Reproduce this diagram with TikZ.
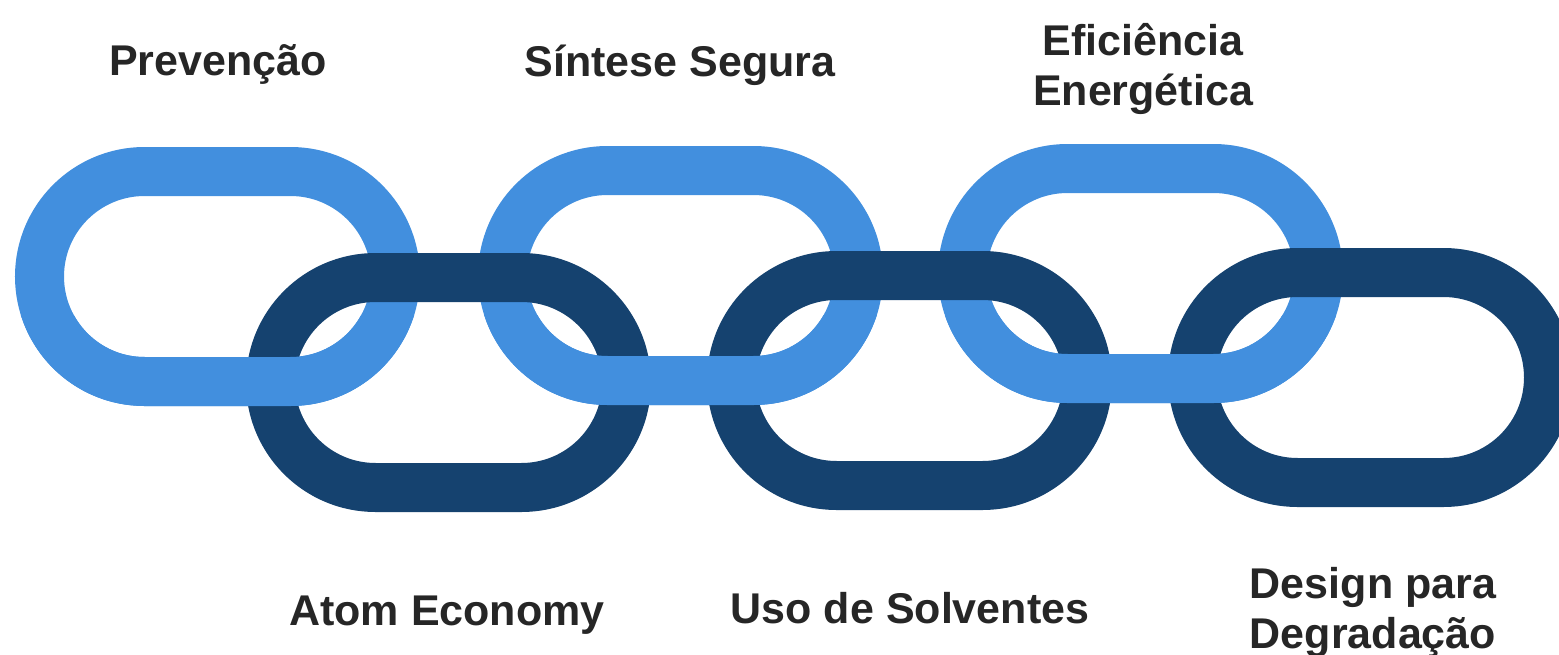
\documentclass[tikz,border=0pt]{standalone}
\usepackage{fontspec}
\setmainfont{Liberation Sans}
\usepackage{tikz}
\definecolor{linklight}{HTML}{428FDE}
\definecolor{linkdark}{HTML}{15426F}
\definecolor{labeltext}{HTML}{262626}
\tikzset{
	lightlink/.style={draw=linklight,line width=49pt,rounded corners=105pt},
	darklink/.style={draw=linkdark,line width=49pt,rounded corners=105pt},
	tag/.style={text=labeltext,font=\fontsize{43}{50}\selectfont\bfseries,align=center,inner sep=0pt}
}

\begin{document}
\begin{tikzpicture}[x=1pt,y=-1pt]
	\useasboundingbox (0,0) rectangle (1559,654);
	% corners of the links (centre line)
	\coordinate (L1) at (39.5,171.5);
	\coordinate (D1) at (270.5,277.5);
	\coordinate (L2) at (502.5,170.5);
	\coordinate (D2) at (731.5,275.5);
	\coordinate (L3) at (962.5,168.5);
	\coordinate (D3) at (1192.5,272.5);
	\foreach \c in {L1,L2,L3}
		\path [lightlink] (\c) rectangle ++(356,210);
	\foreach \c in {D1,D2,D3}
		\path [darklink] (\c) rectangle ++(356,210);
	% lower halves of the light links go over the dark ones
	\begin{scope}
		\clip (0,315) rectangle (1559,654);
		\foreach \c in {L1,L2,L3}
			\path [lightlink] (\c) rectangle ++(356,210);
	\end{scope}
	% base anchor sits on the last line
	\path (218,75) node [tag,anchor=base] (prev) {Prevenção};
	\path (680,76) node [tag,anchor=base] (sint) {Síntese Segura};
	\path (1143,105) node [tag,anchor=base] (efic) {Eficiência\\Energética};
	\path (447,625) node [tag,anchor=base] (atom) {Atom Economy};
	\path (910,623) node [tag,anchor=base] (solv) {Uso de Solventes};
	\path (1373,648) node [tag,anchor=base] (degr) {Design para\\Degradação};
\end{tikzpicture}
\end{document}
